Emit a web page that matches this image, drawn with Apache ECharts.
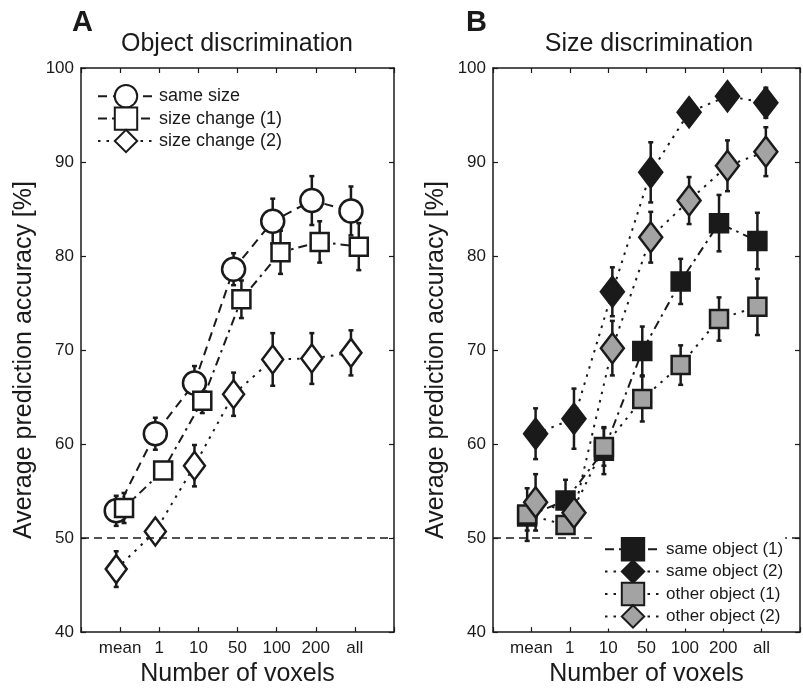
<!DOCTYPE html>
<html>
<head>
<meta charset="utf-8">
<script src="https://cdn.jsdelivr.net/npm/echarts@6/dist/echarts.min.js"></script>
<style>
  html, body { margin: 0; padding: 0; background: #fff; }
  #chart { width: 803px; height: 692px; }
</style>
</head>
<body>
<div id="chart"></div>
<script>
// categories on the x axis (both panels)
var categories = ['mean', '1', '10', '50', '100', '200', 'all'];
var yTicks = [40, 50, 60, 70, 80, 90, 100];

// panel A - object discrimination
var sameSize      = [52.9, 61.1, 66.5, 78.6, 83.7, 85.9, 84.8];
var sameSizeErr   = [1.6, 1.7, 1.8, 1.7, 2.4, 2.6, 2.6];
var sizeChange1   = [53.2, 57.2, 64.6, 75.4, 80.4, 81.5, 81.0];
var sizeChange1Err= [1.6, 0.6, 1.3, 2.0, 2.3, 2.2, 2.5];
var sizeChange2   = [46.7, 50.7, 57.7, 65.3, 69.0, 69.1, 69.7];
var sizeChange2Err= [1.9, 0.6, 2.2, 2.3, 2.8, 2.7, 2.4];

// panel B - size discrimination
var sameObj1      = [52.3, 54.0, 59.3, 69.9, 77.3, 83.5, 81.6];
var sameObj1Err   = [1.5, 2.2, 2.5, 2.6, 2.4, 3.0, 3.0];
var sameObj2      = [61.1, 62.7, 76.2, 88.9, 95.3, 97.0, 96.3];
var sameObj2Err   = [2.7, 3.2, 2.6, 3.2, 0.8, 0.8, 1.6];
var otherObj1     = [52.5, 51.4, 59.7, 64.8, 68.4, 73.3, 74.6];
var otherObj1Err  = [2.8, 0.7, 2.0, 2.4, 2.1, 2.3, 3.0];
var otherObj2     = [53.8, 52.7, 70.2, 82.0, 85.9, 89.6, 91.1];
var otherObj2Err  = [3.0, 1.0, 2.9, 2.7, 2.5, 2.7, 2.6];

var ink = '#1a1a1a';
var grey = '#a3a3a3';
var font = 'Liberation Sans, Arial, Helvetica, sans-serif';

function pts(vals, off) {
  return vals.map(function (v, i) { return [i + 1 + off, v]; });
}
function errPts(vals, errs, off) {
  return vals.map(function (v, i) { return [i + 1 + off, v - errs[i], v + errs[i]]; });
}

function errRender(params, api) {
  var x = api.value(0);
  var top = api.coord([x, api.value(2)]);
  var bot = api.coord([x, api.value(1)]);
  var w = 2.5;
  var st = { stroke: ink, lineWidth: 2.5 };
  return {
    type: 'group',
    children: [
      { type: 'line', shape: { x1: top[0], y1: top[1], x2: bot[0], y2: bot[1] }, style: st },
      { type: 'line', shape: { x1: top[0] - w, y1: top[1], x2: top[0] + w, y2: top[1] }, style: st },
      { type: 'line', shape: { x1: bot[0] - w, y1: bot[1], x2: bot[0] + w, y2: bot[1] }, style: st }
    ]
  };
}

function errSeries(vals, errs, off, gi) {
  return {
    type: 'custom', xAxisIndex: gi * 2, yAxisIndex: gi * 2, z: 1,
    renderItem: errRender, data: errPts(vals, errs, off), silent: true
  };
}

function lineSeries(name, vals, off, gi, symbol, size, fill, dash) {
  return {
    name: name, type: 'line', xAxisIndex: gi * 2, yAxisIndex: gi * 2, z: 3,
    data: pts(vals, off), symbol: symbol, symbolSize: size, showSymbol: true,
    lineStyle: { color: ink, width: 2, type: dash },
    itemStyle: { color: fill, borderColor: ink, borderWidth: 2.5, opacity: 1 },
    emphasis: { disabled: true }, animation: false
  };
}

var DASH = [9, 6];
var DASHDOT = [9, 5, 2.5, 5];
var DOT = [2.5, 6];

var grids = [
  { left: 81, top: 68, width: 313, height: 573 },
  { left: 493, top: 68, width: 314, height: 573 }
];

function xAx(gi, pos) {
  var bottom = pos === 'bottom';
  return {
    type: 'value', gridIndex: gi, position: pos, min: 0, max: 8, interval: 1,
    splitLine: { show: false },
    axisLine: { show: true, onZero: false, lineStyle: { color: ink, width: 1.5 } },
    axisTick: { show: true, inside: true, length: 5, lineStyle: { color: ink, width: 1.2 } },
    axisLabel: {
      show: bottom, margin: 8, color: ink, fontFamily: font, fontSize: 17,
      formatter: function (v) { return (v >= 1 && v <= 7) ? categories[v - 1] : ''; }
    },
    name: bottom ? 'Number of voxels' : '', nameLocation: 'middle', nameGap: 29,
    nameTextStyle: { color: ink, fontFamily: font, fontSize: 25 }
  };
}
function yAx(gi, pos) {
  var left = pos === 'left';
  return {
    type: 'value', gridIndex: gi, position: pos, min: yTicks[0], max: yTicks[yTicks.length - 1], interval: 10,
    splitLine: { show: false },
    axisLine: { show: true, onZero: false, lineStyle: { color: ink, width: 1.5 } },
    axisTick: { show: true, inside: true, length: 5, lineStyle: { color: ink, width: 1.2 } },
    axisLabel: { show: left, margin: 7, color: ink, fontFamily: font, fontSize: 17 },
    name: left ? 'Average prediction accuracy [%]' : '', nameLocation: 'middle', nameGap: 44,
    nameTextStyle: { color: ink, fontFamily: font, fontSize: 25, padding: [0, 20, 0, 0] }
  };
}

var refLineA = {
  type: 'line', xAxisIndex: 0, yAxisIndex: 0, data: [], z: 1,
  markLine: {
    silent: true, symbol: 'none', label: { show: false }, animation: false,
    lineStyle: { color: ink, width: 1.5, type: [8, 5] }, data: [{ yAxis: 50 }]
  }
};
var refLineB = {
  type: 'line', xAxisIndex: 2, yAxisIndex: 2, data: [], z: 1,
  markLine: {
    silent: true, symbol: 'none', label: { show: false }, animation: false,
    lineStyle: { color: ink, width: 1.5, type: [8, 5] }, data: [{ yAxis: 50 }]
  }
};

var option = {
  animation: false,
  backgroundColor: '#fff',
  grid: grids,
  xAxis: [xAx(0, 'bottom'), xAx(0, 'top'), xAx(1, 'bottom'), xAx(1, 'top')],
  yAxis: [yAx(0, 'left'), yAx(0, 'right'), yAx(1, 'left'), yAx(1, 'right')],
  legend: [
    {
      data: ['same size', 'size change (1)', 'size change (2)'],
      orient: 'vertical', left: 97, top: 84, itemWidth: 56, itemHeight: 28, itemGap: -2,
      padding: 0, textStyle: { color: ink, fontFamily: font, fontSize: 18 }, selectedMode: false
    },
    {
      data: ['same object (1)', 'same object (2)', 'other object (1)', 'other object (2)'],
      orient: 'vertical', left: 595, top: 537, itemWidth: 56, itemHeight: 28, itemGap: -2,
      padding: [0, 2, 0, 9], backgroundColor: '#fff', z: 10,
      textStyle: { color: ink, fontFamily: font, fontSize: 17 }, selectedMode: false
    }
  ],
  graphic: [
    { type: 'text', left: 72, top: 8, style: { text: 'A', font: 'bold 29px ' + font, fill: ink } },
    { type: 'text', x: 237, y: 44, style: { text: 'Object discrimination', font: '25px ' + font, fill: ink, textAlign: 'center', textVerticalAlign: 'middle' } },
    { type: 'text', left: 466, top: 8, style: { text: 'B', font: 'bold 29px ' + font, fill: ink } },
    { type: 'text', x: 649, y: 44, style: { text: 'Size discrimination', font: '25px ' + font, fill: ink, textAlign: 'center', textVerticalAlign: 'middle' } }
  ],
  series: [
    refLineA, refLineB,
    errSeries(sameSize, sameSizeErr, -0.1, 0),
    errSeries(sizeChange1, sizeChange1Err, 0.1, 0),
    errSeries(sizeChange2, sizeChange2Err, -0.1, 0),
    errSeries(sameObj1, sameObj1Err, -0.11, 1),
    errSeries(sameObj2, sameObj2Err, 0.11, 1),
    errSeries(otherObj1, otherObj1Err, -0.11, 1),
    errSeries(otherObj2, otherObj2Err, 0.11, 1),
    lineSeries('same size', sameSize, -0.1, 0, 'circle', 23, '#fff', DASH),
    lineSeries('size change (1)', sizeChange1, 0.1, 0, 'rect', 18, '#fff', DASHDOT),
    lineSeries('size change (2)', sizeChange2, -0.1, 0, 'diamond', [21, 28], '#fff', DOT),
    lineSeries('same object (1)', sameObj1, -0.11, 1, 'rect', 18, ink, DASHDOT),
    lineSeries('same object (2)', sameObj2, 0.11, 1, 'diamond', [23, 30], ink, DOT),
    lineSeries('other object (1)', otherObj1, -0.11, 1, 'rect', 18, grey, DOT),
    lineSeries('other object (2)', otherObj2, 0.11, 1, 'diamond', [23, 30], grey, DOT)
  ]
};

var chart = echarts.init(document.getElementById('chart'), null, { renderer: 'canvas' });
chart.setOption(option);
</script>
</body>
</html>
